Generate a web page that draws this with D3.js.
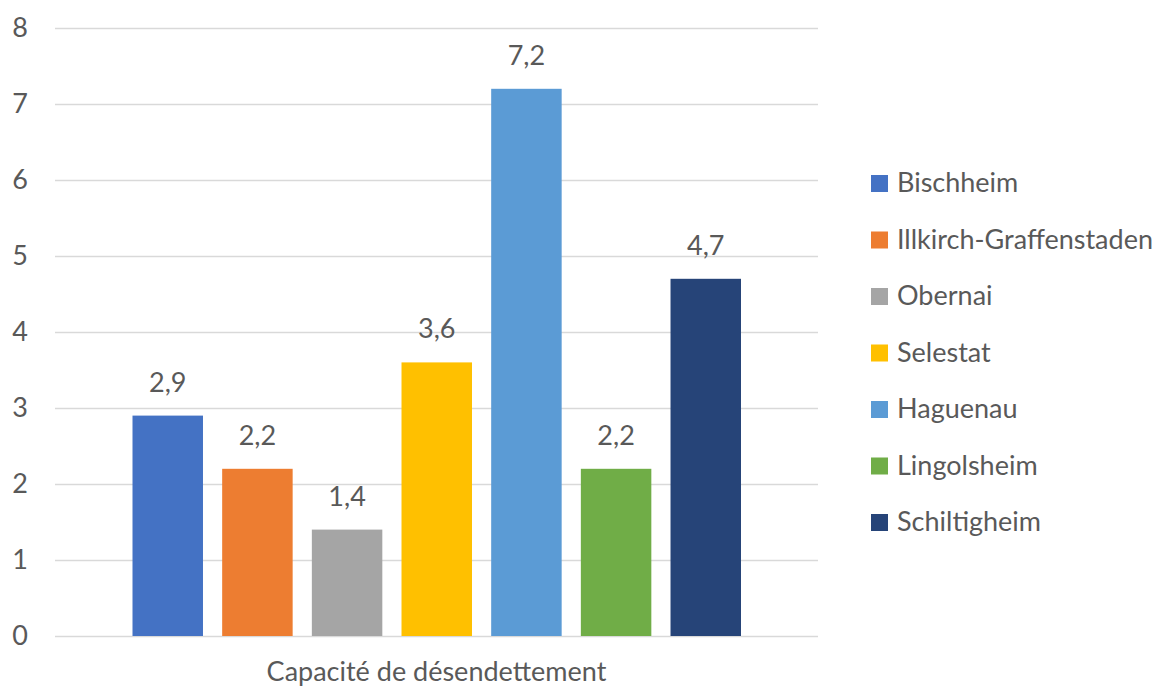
<!DOCTYPE html>
<html>
<head>
<meta charset="utf-8">
<script src="https://cdn.jsdelivr.net/npm/d3@7"></script>
<style>
  html, body { margin: 0; padding: 0; background: #fff; }
  svg { display: block; }
  text { font-family: Lato, "Open Sans", sans-serif; fill: #595959; }
</style>
</head>
<body>
<svg id="chart" width="1165" height="688"></svg>
<script>
// Debt-reduction capacity (years) per commune
const communes = ["Bischheim", "Illkirch-Graffenstaden", "Obernai", "Selestat", "Haguenau", "Lingolsheim", "Schiltigheim"];
const values = [2.9, 2.2, 1.4, 3.6, 7.2, 2.2, 4.7];
const colors = ["#4472C4", "#ED7D31", "#A5A5A5", "#FFC000", "#5B9BD5", "#70AD47", "#264478"];
const yTicks = [0, 1, 2, 3, 4, 5, 6, 7, 8];
const categoryLabel = "Capacité de désendettement";

const FONT = 27;
const svg = d3.select("#chart");

const plot = { left: 55, right: 818, top: 28, bottom: 636 };

const y = d3.scaleLinear().domain([0, 8]).range([plot.bottom, plot.top]);
const x = d3.scaleBand()
  .domain(communes)
  .range([132.5, 741])
  .paddingInner(0.214)
  .paddingOuter(0);

const fmt = v => String(v).replace(".", ",");

// Horizontal gridlines
svg.append("g")
  .selectAll("line")
  .data(yTicks)
  .join("line")
  .attr("x1", plot.left)
  .attr("x2", plot.right)
  .attr("y1", d => y(d) + 0.5)
  .attr("y2", d => y(d) + 0.5)
  .attr("stroke", "#D9D9D9")
  .attr("stroke-width", 1.5);

// Y axis labels
const yAxis = d3.axisLeft(y).tickValues(yTicks).tickSize(0).tickPadding(0).tickFormat(d => d);
svg.append("g")
  .attr("transform", "translate(28,0)")
  .call(yAxis)
  .call(g => g.select(".domain").remove())
  .call(g => g.selectAll("text")
    .attr("font-size", FONT)
    .attr("font-family", "Lato, sans-serif")
    .attr("fill", "#595959"));

// Bars
svg.append("g")
  .selectAll("rect")
  .data(communes)
  .join("rect")
  .attr("x", d => x(d))
  .attr("y", (d, i) => y(values[i]))
  .attr("width", x.bandwidth())
  .attr("height", (d, i) => y(0) - y(values[i]))
  .attr("fill", (d, i) => colors[i]);

// Value labels
svg.append("g")
  .selectAll("text")
  .data(communes)
  .join("text")
  .attr("x", d => x(d) + x.bandwidth() / 2)
  .attr("y", (d, i) => y(values[i]) - 24)
  .attr("text-anchor", "middle")
  .attr("font-size", FONT)
  .text((d, i) => fmt(values[i]));

// Category label under the axis
svg.append("text")
  .attr("x", (plot.left + plot.right) / 2)
  .attr("y", 681)
  .attr("text-anchor", "middle")
  .attr("font-size", FONT)
  .text(categoryLabel);

// Legend
const legend = svg.append("g")
  .selectAll("g")
  .data(communes)
  .join("g")
  .attr("transform", (d, i) => `translate(871, ${183 + i * 56.5})`);

legend.append("rect")
  .attr("x", 0)
  .attr("y", -8)
  .attr("width", 17)
  .attr("height", 17)
  .attr("fill", (d, i) => colors[i]);

legend.append("text")
  .attr("x", 26)
  .attr("y", 0)
  .attr("dy", "0.35em")
  .attr("font-size", FONT)
  .text(d => d);
</script>
</body>
</html>
